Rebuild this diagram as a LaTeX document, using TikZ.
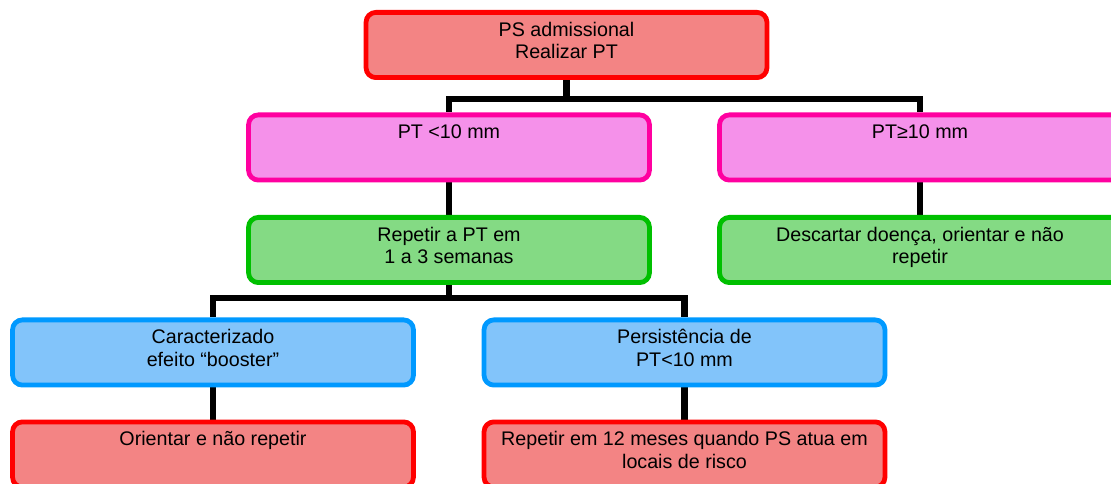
\documentclass[tikz,border=0pt]{standalone}
\usepackage{fontspec}
\setmainfont{Liberation Sans}
\usetikzlibrary{calc,backgrounds}

\definecolor{redline}{RGB}{255,0,0}
\definecolor{redfill}{RGB}{243,132,132}
\definecolor{pinkline}{RGB}{255,0,160}
\definecolor{pinkfill}{RGB}{245,145,234}
\definecolor{greenline}{RGB}{0,192,0}
\definecolor{greenfill}{RGB}{132,218,132}
\definecolor{blueline}{RGB}{0,153,255}
\definecolor{bluefill}{RGB}{130,196,250}

\newcommand{\boxtxt}[1]{\parbox[c][1.22cm][t]{9.8cm}{\centering\strut#1}}

\tikzset{
  box/.style={draw, rounded corners=7pt, line width=3.4pt, inner sep=0pt,
    minimum width=10.02cm, minimum height=1.63cm,
    font=\fontsize{14}{16}\selectfont},
  redbox/.style={box, draw=redline, fill=redfill},
  pinkbox/.style={box, draw=pinkline, fill=pinkfill},
  greenbox/.style={box, draw=greenline, fill=greenfill},
  bluebox/.style={box, draw=blueline, fill=bluefill},
  link/.style={line width=4.3pt, black}
}

\begin{document}
\begin{tikzpicture}[x=0.025cm, y=-0.025cm]
  \clip (0,0) rectangle (1111,484);

  % First level
  \node[redbox] (ps) at (566.5,45) {\boxtxt{PS admissional\\Realizar PT}};

  % Test result
  \node[pinkbox] (ptlow) at (449,147.5) {\boxtxt{PT <10 mm}};
  \node[pinkbox] (pthigh) at (920,147.5) {\boxtxt{PT≥10 mm}};

  % Next step
  \node[greenbox] (repeat) at (449,250) {\boxtxt{Repetir a PT em\\1 a 3 semanas}};
  \node[greenbox] (discard) at (920,250) {\boxtxt{Descartar doença, orientar e não\\repetir}};

  % Second reading
  \node[bluebox] (booster) at (213,352.5) {\boxtxt{Caracterizado\\efeito “booster”}};
  \node[bluebox] (persist) at (684.5,352.5) {\boxtxt{Persistência de\\PT<10 mm}};

  % Outcome
  \node[redbox] (nomore) at (213,454.5) {\boxtxt{Orientar e não repetir}};
  \node[redbox] (yearly) at (684.5,454.5) {\boxtxt{Repetir em 12 meses quando PS atua em\\locais de risco}};

  \begin{scope}[on background layer]
    \draw[link] (ps.south) -- ++(0,19) -| (ptlow.north);
    \draw[link] (ps.south) -- ++(0,19) -| (pthigh.north);
    \draw[link] (ptlow) -- (repeat);
    \draw[link] (pthigh) -- (discard);
    \draw[link] (repeat.south) -- ++(0,13) -| (booster.north);
    \draw[link] (repeat.south) -- ++(0,13) -| (persist.north);
    \draw[link] (booster) -- (nomore);
    \draw[link] (persist) -- (yearly);
  \end{scope}
\end{tikzpicture}
\end{document}
